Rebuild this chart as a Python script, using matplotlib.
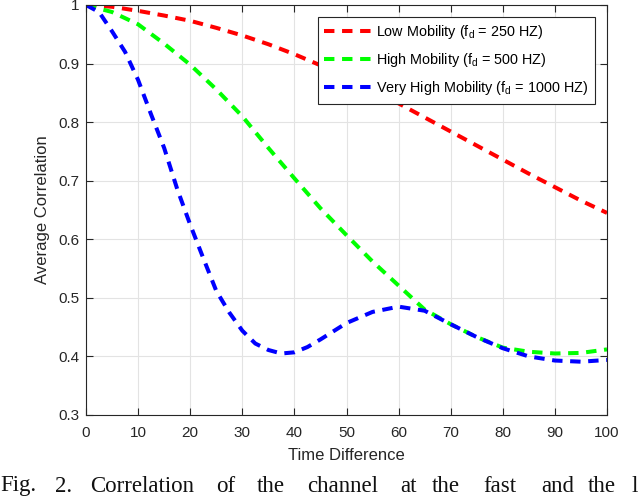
import matplotlib
matplotlib.use("Agg")
import matplotlib.pyplot as plt
from matplotlib.ticker import FuncFormatter

time_diff = [0, 5, 10, 15, 20, 25, 30, 35, 40, 45, 50, 55, 60, 65, 70, 75, 80, 85, 90, 95, 100]
low_mob = [1.0, 0.997, 0.990, 0.982, 0.973, 0.961, 0.948, 0.933, 0.916, 0.897, 0.877,
           0.855, 0.832, 0.808, 0.784, 0.760, 0.736, 0.712, 0.689, 0.666, 0.645]
high_mob = [1.0, 0.988, 0.967, 0.934, 0.898, 0.856, 0.810, 0.756, 0.704, 0.653, 0.607,
            0.562, 0.521, 0.480, 0.455, 0.433, 0.415, 0.408, 0.405, 0.406, 0.412]
time_diff_vh = [0, 2.5, 5, 7.5, 10, 12.5, 15, 17.5, 20, 22.5, 25, 27.5, 30, 32.5, 35,
                37.5, 40, 42.5, 45, 47.5, 50, 55, 60, 65, 70, 75, 80, 85, 90, 95, 100]
vhigh_mob = [1.0, 0.988, 0.955, 0.920, 0.872, 0.813, 0.756, 0.686, 0.625, 0.568, 0.512,
             0.475, 0.444, 0.422, 0.411, 0.405, 0.407, 0.416, 0.429, 0.443, 0.457,
             0.476, 0.485, 0.478, 0.455, 0.433, 0.414, 0.400, 0.393, 0.391, 0.394]
labels = ['Low Mobility (f$_{\\mathrm{d}}$ = 250 HZ)',
          'High Mobility (f$_{\\mathrm{d}}$ = 500 HZ)',
          'Very High Mobility (f$_{\\mathrm{d}}$ = 1000 HZ)']
colors = ['#ff0000', '#00ff00', '#0000ff']
xticks = list(range(0, 101, 10))
yticks = [0.3, 0.4, 0.5, 0.6, 0.7, 0.8, 0.9, 1.0]
caption_words = ['Fig.', '2.', 'Correlation', 'of', 'the', 'channel', 'at', 'the',
                 'fast', 'and', 'the', 'l']
caption_x_px = [0, 55, 90, 216, 257, 307, 400, 432, 483, 541, 588, 632]

plt.rcParams['font.family'] = ['Liberation Sans', 'DejaVu Sans']
plt.rcParams['mathtext.fontset'] = 'custom'
plt.rcParams['mathtext.rm'] = 'Liberation Sans'
plt.rcParams['mathtext.it'] = 'Liberation Sans:italic'
plt.rcParams['lines.scale_dashes'] = False

W, H = 640, 497
fig = plt.figure(figsize=(W / 100, H / 100), dpi=100)
ax = fig.add_axes([86 / W, 82 / H, 521 / W, 410 / H])

series = [(time_diff, low_mob), (time_diff, high_mob), (time_diff_vh, vhigh_mob)]
for (xs, ys), lab, c in zip(series, labels, colors):
    ax.plot(xs, ys, color=c, lw=2.9, linestyle=(0, (7.5, 5.5)), label=lab,
            dash_capstyle='butt')

ax.set_xlim(0, 100)
ax.set_ylim(0.3, 1.0)
ax.set_xticks(xticks)
ax.set_yticks(yticks)
ax.yaxis.set_major_formatter(FuncFormatter(lambda v, p: ('%g' % round(v, 2))))
ax.grid(True, color='#e3e3e3', lw=0.8)
ax.set_axisbelow(True)
ax.tick_params(direction='in', length=5, width=0.8, top=True, right=True,
               labelsize=11, colors='#262626')
ax.tick_params(axis='x', pad=8)
ax.tick_params(axis='y', pad=5)
for s in ax.spines.values():
    s.set_color('#262626')
    s.set_linewidth(0.8)

ax.set_xlabel('Time Difference', fontsize=12, color='#262626', labelpad=6)
ax.set_ylabel('Average Correlation', fontsize=12, color='#262626', labelpad=6)

leg = ax.legend(loc='upper right', bbox_to_anchor=(0.977, 0.971), borderaxespad=0,
                fontsize=10.4, frameon=True, fancybox=False, framealpha=1.0,
                handlelength=3.2, handletextpad=0.4, labelspacing=0.68, borderpad=0.45)
leg.get_frame().set_edgecolor('#262626')
leg.get_frame().set_linewidth(0.8)

for w, xp in zip(caption_words, caption_x_px):
    fig.text(xp / W, 5.5 / H, w, fontsize=16.5,
             family=['Liberation Serif', 'DejaVu Serif'], ha='left', va='baseline',
             color='#111111')

fig.savefig('out.png', dpi=100)
